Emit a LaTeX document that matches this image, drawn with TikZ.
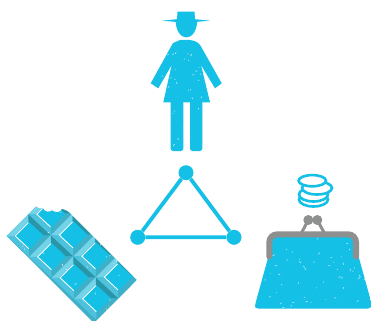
\documentclass[tikz,border=0pt]{standalone}
\definecolor{cy}{HTML}{14C0E5}
\definecolor{gr}{HTML}{8E9090}
\definecolor{bvA}{HTML}{74D3E8}
\definecolor{bvB}{HTML}{4CC2DC}
\definecolor{bvC}{HTML}{2895A9}
\definecolor{bvD}{HTML}{3FB0C8}
\newcommand{\fleck}[6]{% n x y w h seed
  \pgfmathsetseed{#6}
  \foreach \i in {1,...,#1}{
    \pgfmathsetmacro{\fx}{#2+rnd*#4}
    \pgfmathsetmacro{\fy}{#3+rnd*#5}
    \pgfmathsetmacro{\fa}{rnd*360}
    \pgfmathsetmacro{\fl}{0.4+rnd*1.8}
    \draw[flk] (\fx,\fy) -- ++(\fa:\fl pt);
  }}
\tikzset{
  flk/.style={white,line width=.6pt,line cap=round,opacity=.75},
  dot/.style={circle,fill=cy,minimum size=15pt,inner sep=0pt},
  tri/.style={cy,line width=3.8pt},
  coin/.style={draw=cy,fill=white,line width=2.6pt},
  frame/.style={gr,line width=6pt,line cap=round},
  clasp/.style={gr,line width=3pt}
}
\begin{document}
\begin{tikzpicture}[x=1pt,y=-1pt]
\useasboundingbox (0,0) rectangle (371,321);
% person
\fill[cy] (162,20.7) -- (177,19.2) -- (177.5,11.7) -- (194.5,11.7) -- (195,19.2) -- (210,20.7) -- (195,22) -- (177,22) -- cycle;
\fill[cy] (175.7,21) arc[start angle=180,end angle=360,x radius=10.7pt,y radius=16.5pt] -- cycle;
\begin{scope}
 \clip[rounded corners=2.5pt] (170.7,100) rectangle (183.3,151) (190,100) rectangle (202.3,151)
   ;
 \fill[cy] (165,95) rectangle (208,155);
 \fleck{7}{171}{103}{31}{47}{7}
\end{scope}
\begin{scope}
 \path[clip] (180,40) [rounded corners=3pt] -- (192,40) -- (199,43) [sharp corners] -- (221.7,83.3) -- (215,88.3) -- (201,65) -- (210,102.3) -- (163.3,102.3) -- (171.7,65) -- (158.3,88.3) -- (150.7,83.3) -- (173,43) -- cycle;
 \fill[cy] (145,35) rectangle (225,105);
 \fleck{26}{160}{42}{50}{60}{11}
\end{scope}
% triangle
\node[dot] (a) at (186,172.7) {};
\node[dot] (b) at (137.7,237.3) {};
\node[dot] (c) at (234,237.3) {};
\draw[tri] (a) -- (b) -- (c) -- (a);
% chocolate
\begin{scope}
 \clip (6.7,236) -- (36,206.7) .. controls (38,209) and (41,209) .. (43,208.5)
   .. controls (44,212) and (50,213) .. (52,210.5)
   .. controls (55,213) and (61,213) .. (62,209)
   .. controls (64,210) and (66,210) .. (68,211.5)
   -- (136.7,280) -- (94,323) -- cycle;
 \fill[bvD] (0,200) rectangle (140,321);
 \begin{scope}[shift={(6.7,236)},x={(22.5pt,-21pt)},y={(21.7pt,21.7pt)}]
  \foreach \u in {0,...,3}{\foreach \v in {0,1}{
   \begin{scope}[shift={(\u,\v)}]
    \fill[bvA] (0,0) -- (0,1) -- (.17,.83) -- (.17,.17) -- cycle;
    \fill[bvB] (0,0) -- (1,0) -- (.83,.17) -- (.17,.17) -- cycle;
    \fill[bvC] (0,1) -- (1,1) -- (.83,.83) -- (.17,.83) -- cycle;
    \fill[bvD] (1,0) -- (1,1) -- (.83,.83) -- (.83,.17) -- cycle;
    \fill[cy] (.17,.17) -- (.83,.17) -- (.83,.83) -- (.17,.83) -- cycle;
    \draw[white,line width=.9pt] (.19,.8) -- (.19,.19) -- (.8,.19);
   \end{scope}}}
 \end{scope}
 \fleck{45}{10}{210}{120}{110}{23}
\end{scope}
% coins
\draw[coin] (313.5,199.5) ellipse[x radius=14.5pt,y radius=7pt];
\draw[coin] (313.5,194.5) ellipse[x radius=14.5pt,y radius=7pt];
\draw[coin] (317,188) ellipse[x radius=15pt,y radius=6.5pt];
\draw[coin] (312.3,180.7) ellipse[x radius=13.7pt,y radius=5.6pt];
% purse
\begin{scope}
 \clip (272,236) -- (355,236) -- (359,258) [rounded corners=3pt] -- (372,305) -- (371,308.5) -- (255,308.5) -- (255,305) [sharp corners] -- (268,258) -- cycle;
 \fill[cy] (250,230) rectangle (375,312);
 \fleck{55}{256}{238}{114}{70}{5}
\end{scope}
\draw[clasp] (308.3,220) -- (301.7,232.5) (317.3,220) -- (324,232.5);
\fill[gr] (308.3,220) circle[radius=5pt] (317.3,220) circle[radius=5pt];
\draw[frame] (269.3,256.5) [rounded corners=8pt] -- (269.3,234.3) -- (356,234.3) -- (356,256.5);
\end{tikzpicture}
\end{document}
